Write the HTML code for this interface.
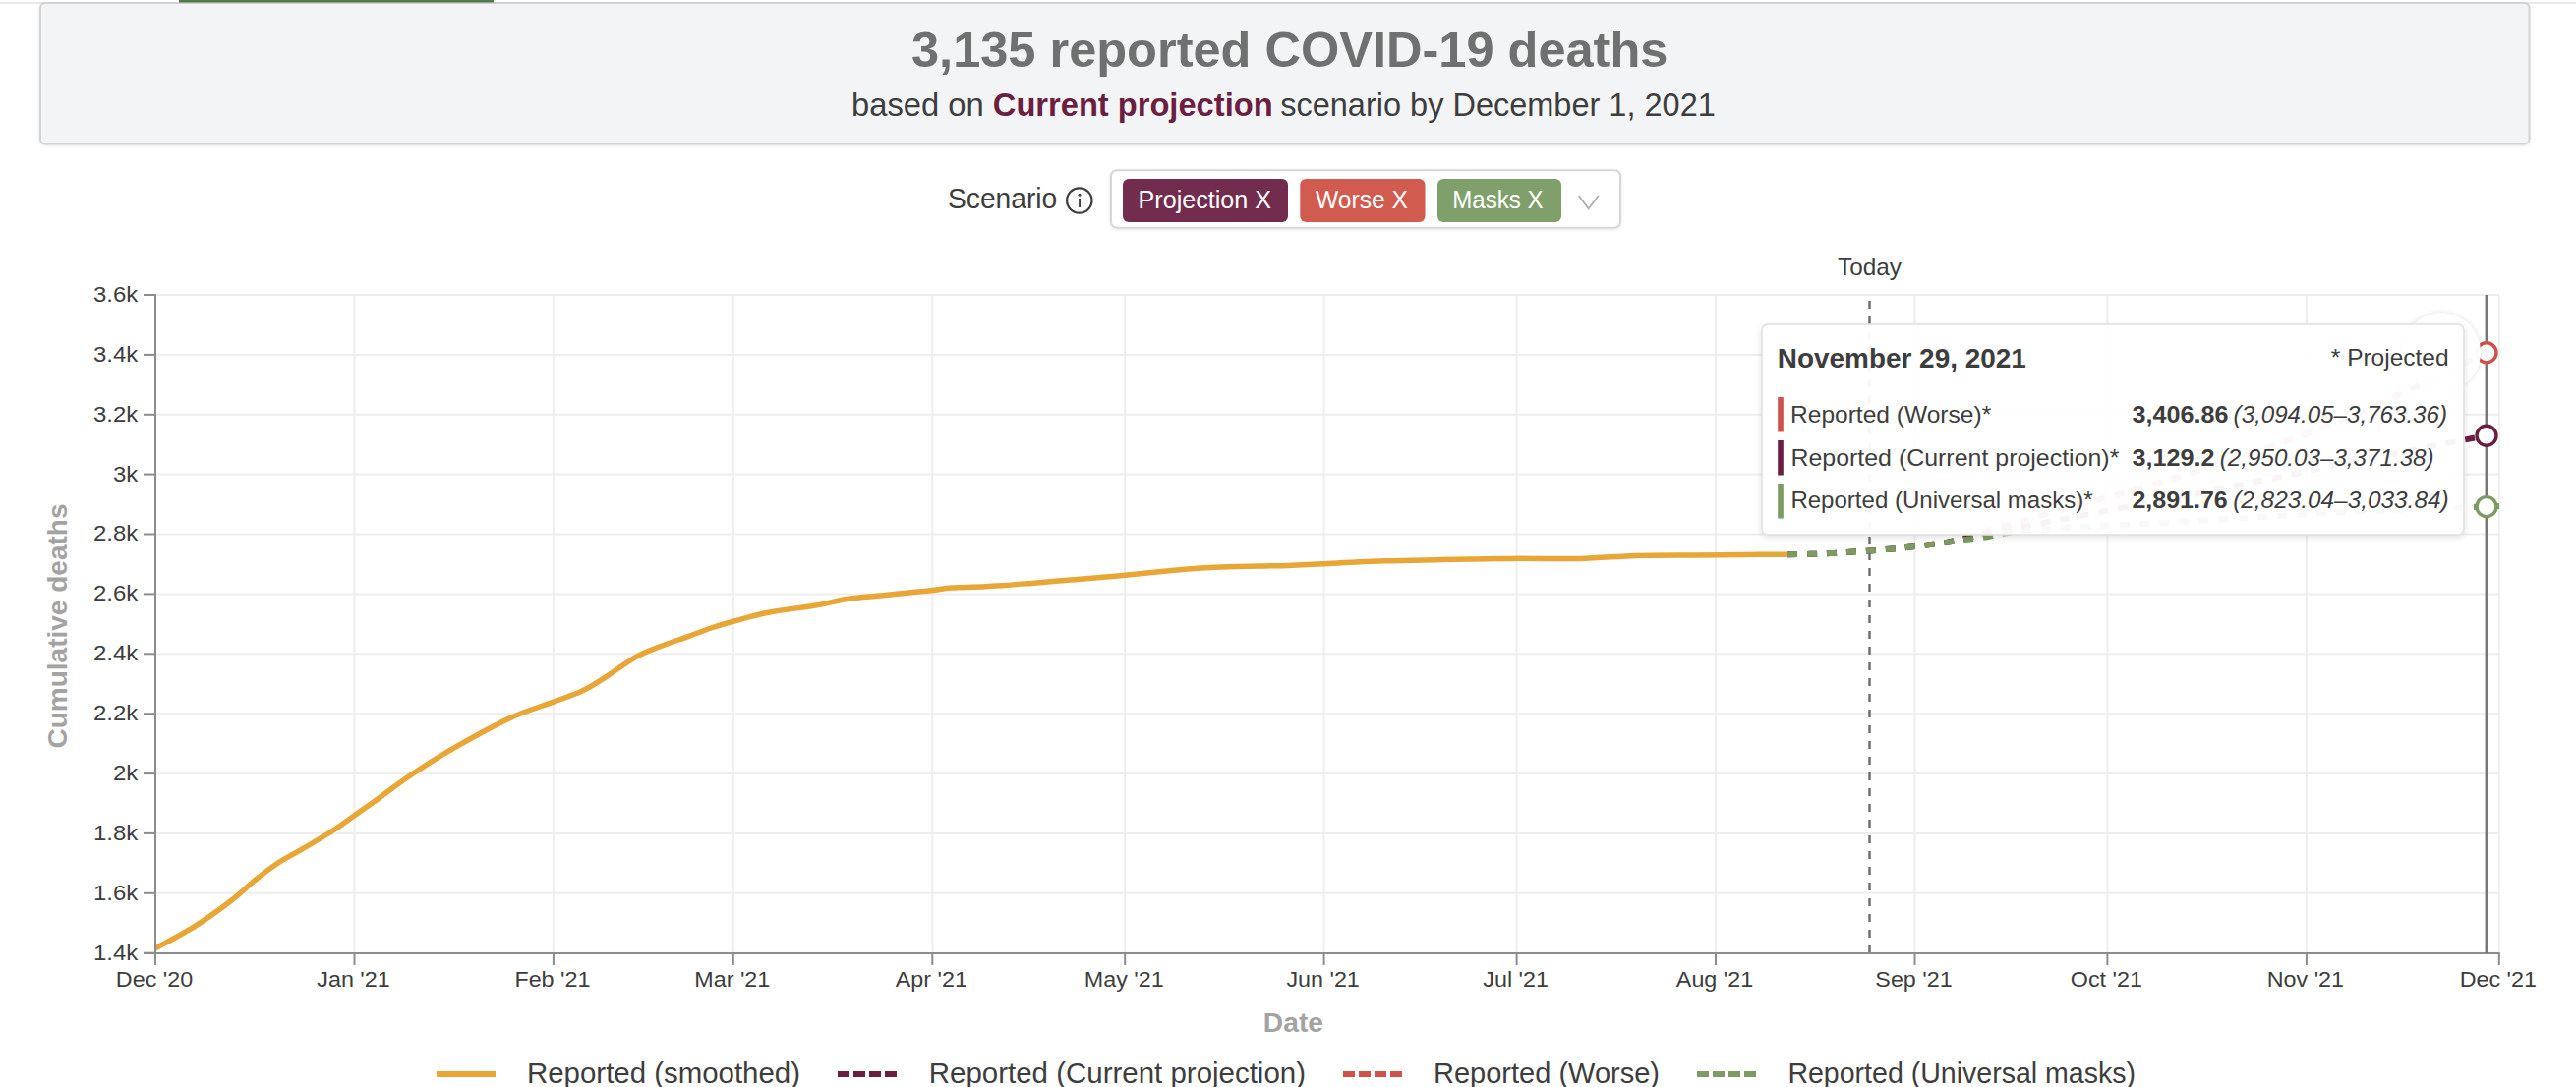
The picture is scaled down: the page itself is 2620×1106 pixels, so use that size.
<!DOCTYPE html>
<html><head><meta charset="utf-8"><style>
html,body{margin:0;padding:0;background:#fff;width:2620px;height:1106px;overflow:hidden;}
svg{position:absolute;left:0;top:0;}
</style></head><body>
<svg width="2620" height="1106" viewBox="0 0 2620 1106" font-family='"Liberation Sans", "DejaVu Sans", sans-serif'>
<defs>
<filter id="sh" x="-5%" y="-5%" width="110%" height="120%"><feDropShadow dx="0" dy="2" stdDeviation="3" flood-color="#000" flood-opacity="0.12"/></filter>
<filter id="sh3" x="-30%" y="-30%" width="160%" height="160%"><feDropShadow dx="0" dy="0" stdDeviation="2.5" flood-color="#000" flood-opacity="0.16"/></filter>
<filter id="sh2" x="-2%" y="-10%" width="104%" height="130%"><feDropShadow dx="0" dy="1" stdDeviation="1.5" flood-color="#000" flood-opacity="0.10"/></filter>
</defs>
<rect x="0" y="2" width="2620" height="2" fill="#e9e9e9"/>
<rect x="41" y="3" width="2531.5" height="143.5" rx="5" fill="#f3f4f6" stroke="#d2d3d5" stroke-width="2" filter="url(#sh2)"/>
<rect x="182" y="0" width="320" height="2.5" fill="#527a4a"/>
<rect x="1130" y="173.3" width="518" height="58.4" rx="6" fill="#fff" stroke="#d6d7d9" stroke-width="2" filter="url(#sh2)"/>
<rect x="1142" y="182" width="168" height="44" rx="6" fill="#722c4e"/>
<rect x="1322.3" y="182" width="127.2" height="44" rx="6" fill="#d15b4f"/>
<rect x="1462" y="182" width="126" height="44" rx="6" fill="#80a06b"/>
<path d="M1605.6,199.1 L1615.7,212.3 L1625.8,199.1" fill="none" stroke="#ababab" stroke-width="1.7"/>
<circle cx="1097.8" cy="204" r="12.7" fill="none" stroke="#3d3d3d" stroke-width="2.2"/>
<circle cx="1098" cy="198.3" r="1.5" fill="#3d3d3d"/>
<rect x="1097.1" y="202" width="1.9" height="9" fill="#3d3d3d"/>
<line x1="158" x2="2542" y1="969.7" y2="969.7" stroke="#eeeeee" stroke-width="2"/>
<line x1="158" x2="2542" y1="908.8" y2="908.8" stroke="#eeeeee" stroke-width="2"/>
<line x1="158" x2="2542" y1="847.9" y2="847.9" stroke="#eeeeee" stroke-width="2"/>
<line x1="158" x2="2542" y1="787.1" y2="787.1" stroke="#eeeeee" stroke-width="2"/>
<line x1="158" x2="2542" y1="726.2" y2="726.2" stroke="#eeeeee" stroke-width="2"/>
<line x1="158" x2="2542" y1="665.3" y2="665.3" stroke="#eeeeee" stroke-width="2"/>
<line x1="158" x2="2542" y1="604.4" y2="604.4" stroke="#eeeeee" stroke-width="2"/>
<line x1="158" x2="2542" y1="543.5" y2="543.5" stroke="#eeeeee" stroke-width="2"/>
<line x1="158" x2="2542" y1="482.6" y2="482.6" stroke="#eeeeee" stroke-width="2"/>
<line x1="158" x2="2542" y1="421.8" y2="421.8" stroke="#eeeeee" stroke-width="2"/>
<line x1="158" x2="2542" y1="360.9" y2="360.9" stroke="#eeeeee" stroke-width="2"/>
<line x1="158" x2="2542" y1="300.0" y2="300.0" stroke="#eeeeee" stroke-width="2"/>
<line x1="158.0" x2="158.0" y1="300" y2="970" stroke="#eeeeee" stroke-width="2"/>
<line x1="360.5" x2="360.5" y1="300" y2="970" stroke="#eeeeee" stroke-width="2"/>
<line x1="562.9" x2="562.9" y1="300" y2="970" stroke="#eeeeee" stroke-width="2"/>
<line x1="745.8" x2="745.8" y1="300" y2="970" stroke="#eeeeee" stroke-width="2"/>
<line x1="948.3" x2="948.3" y1="300" y2="970" stroke="#eeeeee" stroke-width="2"/>
<line x1="1144.2" x2="1144.2" y1="300" y2="970" stroke="#eeeeee" stroke-width="2"/>
<line x1="1346.6" x2="1346.6" y1="300" y2="970" stroke="#eeeeee" stroke-width="2"/>
<line x1="1542.6" x2="1542.6" y1="300" y2="970" stroke="#eeeeee" stroke-width="2"/>
<line x1="1745.0" x2="1745.0" y1="300" y2="970" stroke="#eeeeee" stroke-width="2"/>
<line x1="1947.5" x2="1947.5" y1="300" y2="970" stroke="#eeeeee" stroke-width="2"/>
<line x1="2143.4" x2="2143.4" y1="300" y2="970" stroke="#eeeeee" stroke-width="2"/>
<line x1="2345.9" x2="2345.9" y1="300" y2="970" stroke="#eeeeee" stroke-width="2"/>
<line x1="2541.8" x2="2541.8" y1="300" y2="970" stroke="#eeeeee" stroke-width="2"/>
<line x1="1901.5" x2="1901.5" y1="306" y2="970" stroke="#6f6f6f" stroke-width="2.5" stroke-dasharray="8,8"/>
<path d="M1818.0,564.2 C1821.9,564.1 1834.3,564.0 1841.6,563.8 C1848.9,563.6 1855.0,563.5 1861.7,563.1 C1868.4,562.8 1874.9,562.1 1881.5,561.7 C1888.1,561.3 1894.7,561.1 1901.3,560.6 C1907.9,560.1 1914.5,559.4 1921.1,558.8 C1927.7,558.2 1934.4,557.5 1941.1,556.8 C1947.8,556.1 1954.6,555.3 1961.3,554.4 C1968.0,553.5 1974.5,552.9 1981.1,551.6 C1987.7,550.3 1994.3,548.4 2001.0,546.5 C2007.7,544.6 2004.8,544.8 2021.3,540.0 C2037.8,535.2 2070.2,526.3 2100.0,518.0 C2129.8,509.7 2166.7,500.0 2200.0,490.0 C2233.3,480.0 2266.7,469.7 2300.0,458.0 C2333.3,446.3 2361.9,436.5 2400.0,420.0 C2438.1,403.5 2507.3,369.0 2528.8,358.8" fill="none" stroke="#d0504a" stroke-width="6" stroke-dasharray="10,10"/>
<path d="M1818.0,564.2 C1821.9,564.1 1834.3,564.0 1841.6,563.8 C1848.9,563.6 1855.0,563.5 1861.7,563.1 C1868.4,562.8 1874.9,562.1 1881.5,561.7 C1888.1,561.3 1894.7,561.1 1901.3,560.6 C1907.9,560.1 1914.5,559.4 1921.1,558.8 C1927.7,558.2 1934.4,557.5 1941.1,556.8 C1947.8,556.1 1954.6,555.3 1961.3,554.4 C1968.0,553.5 1974.5,552.8 1981.1,551.6 C1987.7,550.5 1994.3,548.9 2001.0,547.5 C2007.7,546.1 2004.8,546.2 2021.3,543.0 C2037.8,539.8 2070.2,533.7 2100.0,528.0 C2129.8,522.3 2166.7,515.5 2200.0,509.0 C2233.3,502.5 2266.7,495.8 2300.0,489.0 C2333.3,482.2 2361.9,475.6 2400.0,468.0 C2438.1,460.4 2507.3,447.4 2528.8,443.3" fill="none" stroke="#6c1e42" stroke-width="6" stroke-dasharray="10,10"/>
<path d="M1818.0,564.2 C1821.9,564.1 1834.3,564.0 1841.6,563.8 C1848.9,563.6 1855.0,563.5 1861.7,563.1 C1868.4,562.8 1874.9,562.1 1881.5,561.7 C1888.1,561.3 1894.7,561.1 1901.3,560.6 C1907.9,560.1 1914.5,559.4 1921.1,558.8 C1927.7,558.2 1934.4,557.5 1941.1,556.8 C1947.8,556.1 1954.6,555.3 1961.3,554.4 C1968.0,553.5 1974.5,552.5 1981.1,551.6 C1987.7,550.7 1994.2,549.6 2000.9,548.7 C2007.6,547.8 2014.5,547.3 2021.3,546.2 C2028.1,545.1 2028.9,543.5 2042.0,542.0 C2055.1,540.5 2073.7,538.7 2100.0,537.0 C2126.3,535.3 2166.7,533.8 2200.0,532.0 C2233.3,530.2 2266.7,527.9 2300.0,526.0 C2333.3,524.1 2361.9,522.2 2400.0,520.5 C2438.1,518.8 2507.3,516.4 2528.8,515.6" fill="none" stroke="#7b9b62" stroke-width="6" stroke-dasharray="10,10"/>
<path d="M158.0,965.0 C164.7,961.3 185.1,950.6 197.9,942.6 C210.7,934.6 224.3,924.8 234.7,916.8 C245.1,908.8 252.4,901.1 260.4,894.7 C268.4,888.3 274.5,883.4 282.5,878.2 C290.5,873.0 299.1,868.8 308.3,863.4 C317.5,858.0 329.1,851.3 337.7,845.8 C346.3,840.3 351.8,835.9 359.8,830.3 C367.8,824.6 375.8,818.9 385.6,811.9 C395.4,804.9 405.8,796.6 418.7,788.0 C431.6,779.4 446.3,769.9 462.9,760.4 C479.5,750.9 501.5,738.6 518.1,730.9 C534.7,723.2 550.0,719.0 562.3,714.4 C574.6,709.8 583.1,707.3 591.7,703.3 C600.3,699.3 604.6,696.2 613.8,690.4 C623.0,684.6 637.1,673.8 646.9,668.3 C656.7,662.8 663.9,660.8 672.7,657.3 C681.6,653.8 691.6,650.6 700.0,647.6 C708.4,644.6 715.5,641.6 723.3,639.0 C731.1,636.4 736.9,634.6 746.6,632.0 C756.3,629.4 767.9,625.8 781.5,623.2 C795.1,620.6 814.5,618.5 828.1,616.2 C841.7,613.9 851.4,611.0 863.0,609.2 C874.6,607.5 884.4,607.1 898.0,605.7 C911.6,604.3 933.0,602.3 944.6,601.0 C956.2,599.7 958.2,598.7 967.9,598.0 C977.6,597.3 989.2,597.6 1002.8,596.8 C1016.4,596.0 1033.9,594.6 1049.4,593.4 C1064.9,592.2 1080.5,590.7 1096.0,589.4 C1111.5,588.1 1127.0,586.8 1142.5,585.4 C1158.0,584.0 1173.6,582.1 1189.1,580.8 C1204.6,579.4 1220.5,578.1 1235.7,577.3 C1250.9,576.5 1267.6,576.4 1280.0,576.1 C1292.4,575.8 1299.4,575.8 1310.3,575.4 C1321.2,575.0 1328.9,574.6 1345.2,573.8 C1361.5,573.0 1387.9,571.5 1408.1,570.8 C1428.3,570.1 1444.9,570.0 1466.3,569.6 C1487.7,569.2 1512.9,568.6 1536.2,568.4 C1559.5,568.2 1584.8,568.9 1606.1,568.4 C1627.4,567.9 1644.9,566.0 1664.3,565.4 C1683.7,564.8 1705.0,565.0 1722.5,564.9 C1740.0,564.8 1753.2,564.6 1769.1,564.5 C1785.0,564.4 1809.8,564.2 1818.0,564.2" fill="none" stroke="#e8a636" stroke-width="5.5" stroke-linejoin="round"/>
<line x1="158" x2="158" y1="299" y2="982" stroke="#8c8c8c" stroke-width="2"/>
<line x1="146" x2="2542.6" y1="970" y2="970" stroke="#8c8c8c" stroke-width="2"/>
<line x1="146" x2="158" y1="969.7" y2="969.7" stroke="#8c8c8c" stroke-width="2"/>
<text transform="translate(140.3,976.6) scale(1.055,1)" text-anchor="end" font-size="22.7" fill="#3d3d3d">1.4k</text>
<line x1="146" x2="158" y1="908.8" y2="908.8" stroke="#8c8c8c" stroke-width="2"/>
<text transform="translate(140.3,915.7) scale(1.055,1)" text-anchor="end" font-size="22.7" fill="#3d3d3d">1.6k</text>
<line x1="146" x2="158" y1="847.9" y2="847.9" stroke="#8c8c8c" stroke-width="2"/>
<text transform="translate(140.3,854.8) scale(1.055,1)" text-anchor="end" font-size="22.7" fill="#3d3d3d">1.8k</text>
<line x1="146" x2="158" y1="787.1" y2="787.1" stroke="#8c8c8c" stroke-width="2"/>
<text transform="translate(140.3,794.0) scale(1.055,1)" text-anchor="end" font-size="22.7" fill="#3d3d3d">2k</text>
<line x1="146" x2="158" y1="726.2" y2="726.2" stroke="#8c8c8c" stroke-width="2"/>
<text transform="translate(140.3,733.1) scale(1.055,1)" text-anchor="end" font-size="22.7" fill="#3d3d3d">2.2k</text>
<line x1="146" x2="158" y1="665.3" y2="665.3" stroke="#8c8c8c" stroke-width="2"/>
<text transform="translate(140.3,672.2) scale(1.055,1)" text-anchor="end" font-size="22.7" fill="#3d3d3d">2.4k</text>
<line x1="146" x2="158" y1="604.4" y2="604.4" stroke="#8c8c8c" stroke-width="2"/>
<text transform="translate(140.3,611.3) scale(1.055,1)" text-anchor="end" font-size="22.7" fill="#3d3d3d">2.6k</text>
<line x1="146" x2="158" y1="543.5" y2="543.5" stroke="#8c8c8c" stroke-width="2"/>
<text transform="translate(140.3,550.4) scale(1.055,1)" text-anchor="end" font-size="22.7" fill="#3d3d3d">2.8k</text>
<line x1="146" x2="158" y1="482.6" y2="482.6" stroke="#8c8c8c" stroke-width="2"/>
<text transform="translate(140.3,489.5) scale(1.055,1)" text-anchor="end" font-size="22.7" fill="#3d3d3d">3k</text>
<line x1="146" x2="158" y1="421.8" y2="421.8" stroke="#8c8c8c" stroke-width="2"/>
<text transform="translate(140.3,428.7) scale(1.055,1)" text-anchor="end" font-size="22.7" fill="#3d3d3d">3.2k</text>
<line x1="146" x2="158" y1="360.9" y2="360.9" stroke="#8c8c8c" stroke-width="2"/>
<text transform="translate(140.3,367.8) scale(1.055,1)" text-anchor="end" font-size="22.7" fill="#3d3d3d">3.4k</text>
<line x1="146" x2="158" y1="300.0" y2="300.0" stroke="#8c8c8c" stroke-width="2"/>
<text transform="translate(140.3,306.9) scale(1.055,1)" text-anchor="end" font-size="22.7" fill="#3d3d3d">3.6k</text>
<line x1="158.0" x2="158.0" y1="970" y2="982" stroke="#8c8c8c" stroke-width="2"/>
<text transform="translate(157.0,1003.8) scale(1.05,1)" text-anchor="middle" font-size="22.2" fill="#3d3d3d">Dec '20</text>
<line x1="360.5" x2="360.5" y1="970" y2="982" stroke="#8c8c8c" stroke-width="2"/>
<text transform="translate(359.5,1003.8) scale(1.05,1)" text-anchor="middle" font-size="22.2" fill="#3d3d3d">Jan '21</text>
<line x1="562.9" x2="562.9" y1="970" y2="982" stroke="#8c8c8c" stroke-width="2"/>
<text transform="translate(561.9,1003.8) scale(1.05,1)" text-anchor="middle" font-size="22.2" fill="#3d3d3d">Feb '21</text>
<line x1="745.8" x2="745.8" y1="970" y2="982" stroke="#8c8c8c" stroke-width="2"/>
<text transform="translate(744.8,1003.8) scale(1.05,1)" text-anchor="middle" font-size="22.2" fill="#3d3d3d">Mar '21</text>
<line x1="948.3" x2="948.3" y1="970" y2="982" stroke="#8c8c8c" stroke-width="2"/>
<text transform="translate(947.3,1003.8) scale(1.05,1)" text-anchor="middle" font-size="22.2" fill="#3d3d3d">Apr '21</text>
<line x1="1144.2" x2="1144.2" y1="970" y2="982" stroke="#8c8c8c" stroke-width="2"/>
<text transform="translate(1143.2,1003.8) scale(1.05,1)" text-anchor="middle" font-size="22.2" fill="#3d3d3d">May '21</text>
<line x1="1346.6" x2="1346.6" y1="970" y2="982" stroke="#8c8c8c" stroke-width="2"/>
<text transform="translate(1345.6,1003.8) scale(1.05,1)" text-anchor="middle" font-size="22.2" fill="#3d3d3d">Jun '21</text>
<line x1="1542.6" x2="1542.6" y1="970" y2="982" stroke="#8c8c8c" stroke-width="2"/>
<text transform="translate(1541.6,1003.8) scale(1.05,1)" text-anchor="middle" font-size="22.2" fill="#3d3d3d">Jul '21</text>
<line x1="1745.0" x2="1745.0" y1="970" y2="982" stroke="#8c8c8c" stroke-width="2"/>
<text transform="translate(1744.0,1003.8) scale(1.05,1)" text-anchor="middle" font-size="22.2" fill="#3d3d3d">Aug '21</text>
<line x1="1947.5" x2="1947.5" y1="970" y2="982" stroke="#8c8c8c" stroke-width="2"/>
<text transform="translate(1946.5,1003.8) scale(1.05,1)" text-anchor="middle" font-size="22.2" fill="#3d3d3d">Sep '21</text>
<line x1="2143.4" x2="2143.4" y1="970" y2="982" stroke="#8c8c8c" stroke-width="2"/>
<text transform="translate(2142.4,1003.8) scale(1.05,1)" text-anchor="middle" font-size="22.2" fill="#3d3d3d">Oct '21</text>
<line x1="2345.9" x2="2345.9" y1="970" y2="982" stroke="#8c8c8c" stroke-width="2"/>
<text transform="translate(2344.9,1003.8) scale(1.05,1)" text-anchor="middle" font-size="22.2" fill="#3d3d3d">Nov '21</text>
<line x1="2541.8" x2="2541.8" y1="970" y2="982" stroke="#8c8c8c" stroke-width="2"/>
<text transform="translate(2540.8,1003.8) scale(1.05,1)" text-anchor="middle" font-size="22.2" fill="#3d3d3d">Dec '21</text>
<line x1="2528.8" x2="2528.8" y1="300" y2="970" stroke="#777" stroke-width="2.5"/>
<text transform="translate(68.4,637) rotate(-90)" text-anchor="middle" font-size="28.5" font-weight="bold" fill="#a3a3a3" textLength="249" lengthAdjust="spacingAndGlyphs">Cumulative deaths</text>
<line x1="2529" x2="2542" y1="515.6" y2="515.1" stroke="#7b9b62" stroke-width="6"/>
<circle cx="2529" cy="358.8" r="10" fill="#fff" stroke="#d0504a" stroke-width="3.4"/>
<circle cx="2529" cy="443.3" r="10" fill="#fff" stroke="#6c1e42" stroke-width="3.4"/>
<circle cx="2529" cy="515.6" r="10" fill="#fff" stroke="#7b9b62" stroke-width="3.4"/>
<circle cx="2483" cy="358.5" r="40" fill="#fff" fill-opacity="0.97" filter="url(#sh3)"/>
<rect x="1792" y="330" width="714" height="214" rx="6" fill="#fff" fill-opacity="0.95" stroke="#e0e0e0" stroke-width="1.5" filter="url(#sh)"/>
<rect x="1808.2" y="404.0" width="5.6" height="35.5" fill="#d0504a"/>
<rect x="1808.2" y="448.0" width="5.6" height="35.5" fill="#6c1e42"/>
<rect x="1808.2" y="492.0" width="5.6" height="35.5" fill="#7b9b62"/>
<line x1="444" x2="504" y1="1093" y2="1093" stroke="#e8a636" stroke-width="6"/>
<line x1="852" x2="912" y1="1093" y2="1093" stroke="#6c1e42" stroke-width="6" stroke-dasharray="12,4"/>
<line x1="1366" x2="1426" y1="1093" y2="1093" stroke="#d0504a" stroke-width="6" stroke-dasharray="12,4"/>
<line x1="1726" x2="1786" y1="1093" y2="1093" stroke="#7b9b62" stroke-width="6" stroke-dasharray="12,4"/>
<text x="927.00" y="67.70" font-size="50" fill="#6f7070" textLength="769.40" lengthAdjust="spacingAndGlyphs" font-weight="bold">3,135 reported COVID-19 deaths</text>
<text x="866.00" y="117.70" font-size="33" fill="#3d3d3d" textLength="134.80" lengthAdjust="spacingAndGlyphs">based on</text>
<text x="1009.80" y="117.70" font-size="33" fill="#6c1e42" textLength="284.80" lengthAdjust="spacingAndGlyphs" font-weight="bold">Current projection</text>
<text x="1302.20" y="117.70" font-size="33" fill="#3d3d3d" textLength="442.60" lengthAdjust="spacingAndGlyphs">scenario by December 1, 2021</text>
<text x="964.00" y="212.00" font-size="30" fill="#3d3d3d" textLength="111.20" lengthAdjust="spacingAndGlyphs">Scenario</text>
<text x="1157.60" y="211.90" font-size="25" fill="#ffffff" textLength="135.40" lengthAdjust="spacingAndGlyphs">Projection X</text>
<text x="1338.00" y="211.90" font-size="25" fill="#ffffff" textLength="94.00" lengthAdjust="spacingAndGlyphs">Worse X</text>
<text x="1477.20" y="211.90" font-size="25" fill="#ffffff" textLength="92.40" lengthAdjust="spacingAndGlyphs">Masks X</text>
<text x="1869.00" y="280.40" font-size="24" fill="#3d3d3d" textLength="65.00" lengthAdjust="spacingAndGlyphs">Today</text>
<text x="1284.80" y="1049.70" font-size="28" fill="#a3a3a3" textLength="61.20" lengthAdjust="spacingAndGlyphs" font-weight="bold">Date</text>
<text x="536.00" y="1101.70" font-size="29" fill="#3d3d3d" textLength="278.00" lengthAdjust="spacingAndGlyphs">Reported (smoothed)</text>
<text x="944.80" y="1101.70" font-size="29" fill="#3d3d3d" textLength="383.20" lengthAdjust="spacingAndGlyphs">Reported (Current projection)</text>
<text x="1458.00" y="1101.70" font-size="29" fill="#3d3d3d" textLength="230.00" lengthAdjust="spacingAndGlyphs">Reported (Worse)</text>
<text x="1818.40" y="1101.70" font-size="29" fill="#3d3d3d" textLength="353.60" lengthAdjust="spacingAndGlyphs">Reported (Universal masks)</text>
<text x="1807.80" y="373.60" font-size="28.5" fill="#3d3d3d" textLength="253.00" lengthAdjust="spacingAndGlyphs" font-weight="bold">November 29, 2021</text>
<text x="2370.80" y="372.00" font-size="24" fill="#3d3d3d" textLength="119.80" lengthAdjust="spacingAndGlyphs">* Projected</text>
<text x="1821.00" y="429.70" font-size="24.5" fill="#3d3d3d" textLength="204.20" lengthAdjust="spacingAndGlyphs">Reported (Worse)*</text>
<text x="2168.60" y="429.70" font-size="24.5" fill="#3d3d3d" textLength="97.80" lengthAdjust="spacingAndGlyphs" font-weight="bold">3,406.86</text>
<text x="2271.60" y="429.70" font-size="24.5" fill="#3d3d3d" textLength="217.40" lengthAdjust="spacingAndGlyphs" font-style="italic">(3,094.05–3,763.36)</text>
<text x="1821.40" y="473.70" font-size="24.5" fill="#3d3d3d" textLength="334.00" lengthAdjust="spacingAndGlyphs">Reported (Current projection)*</text>
<text x="2168.40" y="473.70" font-size="24.5" fill="#3d3d3d" textLength="84.00" lengthAdjust="spacingAndGlyphs" font-weight="bold">3,129.2</text>
<text x="2257.80" y="473.70" font-size="24.5" fill="#3d3d3d" textLength="217.80" lengthAdjust="spacingAndGlyphs" font-style="italic">(2,950.03–3,371.38)</text>
<text x="1821.40" y="517.40" font-size="24.5" fill="#3d3d3d" textLength="307.20" lengthAdjust="spacingAndGlyphs">Reported (Universal masks)*</text>
<text x="2168.40" y="517.40" font-size="24.5" fill="#3d3d3d" textLength="97.40" lengthAdjust="spacingAndGlyphs" font-weight="bold">2,891.76</text>
<text x="2271.20" y="517.40" font-size="24.5" fill="#3d3d3d" textLength="219.40" lengthAdjust="spacingAndGlyphs" font-style="italic">(2,823.04–3,033.84)</text>
</svg>
</body></html>
